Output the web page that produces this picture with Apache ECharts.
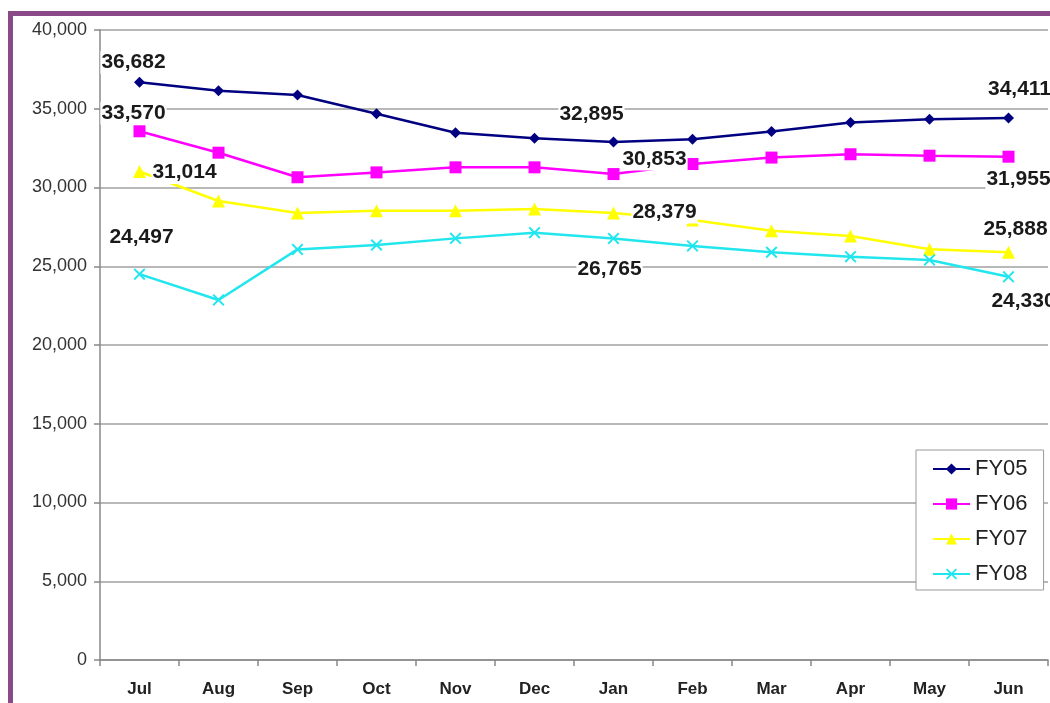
<!DOCTYPE html>
<html>
<head>
<meta charset="utf-8">
<script src="https://cdn.jsdelivr.net/npm/echarts@6/dist/echarts.min.js"></script>
<style>
  html, body { margin: 0; padding: 0; background: #fff; }
  #chart { width: 1050px; height: 703px; }
</style>
</head>
<body>
<div id="chart"></div>
<script>
// months on the x axis
var months = ['Jul', 'Aug', 'Sep', 'Oct', 'Nov', 'Dec', 'Jan', 'Feb', 'Mar', 'Apr', 'May', 'Jun'];

// values (labelled points are exact)
var fy05 = [36682, 36150, 35870, 34680, 33480, 33120, 32895, 33060, 33550, 34120, 34330, 34411];
var fy06 = [33570, 32210, 30650, 30960, 31280, 31280, 30853, 31490, 31900, 32110, 32020, 31955];
var fy07 = [31014, 29140, 28380, 28530, 28530, 28630, 28379, 27940, 27260, 26920, 26080, 25888];
var fy08 = [24497, 22860, 26070, 26350, 26770, 27130, 26765, 26290, 25890, 25610, 25400, 24330];

var yTicks = [0, 5000, 10000, 15000, 20000, 25000, 30000, 35000, 40000];

// which points carry a value label, and where it sits (px from the marker)
var labelSpots = {
  FY05: { 0: [-6, -20], 6: [-22, -28], 11: [11, -29] },
  FY06: { 0: [-6, -18], 6: [41, -15], 11: [10, 22] },
  FY07: { 0: [45, 1], 6: [51, -1], 11: [7, -23] },
  FY08: { 0: [2, -37], 6: [-4, 31], 11: [15, 24] }
};

var xMark = 'path://M0,1.4L1.4,0L6,4.6L10.6,0L12,1.4L7.4,6L12,10.6L10.6,12L6,7.4L1.4,12L0,10.6L4.6,6Z';

function fmt(v) {
  return v.toLocaleString('en-US');
}

function withLabels(name, values) {
  var spots = labelSpots[name];
  return values.map(function (v, i) {
    if (!spots[i]) return v;
    return {
      value: v,
      label: {
        show: true,
        position: 'inside',
        offset: spots[i],
        formatter: fmt(v),
        fontFamily: 'Liberation Sans, Arial, sans-serif',
        fontWeight: 'bold',
        fontSize: 21,
        color: '#1a1a1a',
        backgroundColor: '#fff',
        padding: [1, 1]
      }
    };
  });
}

function makeSeries(name, values, color, symbol, size) {
  return {
    name: name,
    type: 'line',
    data: withLabels(name, values),
    symbol: symbol,
    symbolSize: size,
    showAllSymbol: true,
    lineStyle: { color: color, width: 2.5 },
    itemStyle: { color: color },
    emphasis: { disabled: true },
    animation: false
  };
}

var chart = echarts.init(document.getElementById('chart'));

chart.setOption({
  backgroundColor: '#fff',
  animation: false,
  grid: {
    left: 100,
    top: 30,
    right: 2,
    bottom: 43,
    containLabel: false
  },
  graphic: [{
    type: 'rect',
    shape: { x: 10.5, y: 13.5, width: 1200, height: 900 },
    style: { fill: 'none', stroke: '#8a4a87', lineWidth: 5 },
    z: 0,
    silent: true
  }],
  legend: {
    orient: 'vertical',
    left: 916,
    top: 450,
    padding: [8, 16, 5, 16],
    itemGap: 13,
    itemWidth: 37,
    itemHeight: 14,
    backgroundColor: '#fff',
    borderColor: '#999',
    borderWidth: 1,
    borderRadius: 0,
    textStyle: {
      fontFamily: 'Liberation Sans, Arial, sans-serif',
      fontSize: 22,
      lineHeight: 22,
      color: '#222'
    },
    data: ['FY05', 'FY06', 'FY07', 'FY08']
  },
  xAxis: {
    type: 'category',
    data: months,
    boundaryGap: true,
    axisLine: { lineStyle: { color: '#888', width: 1.5 } },
    axisTick: { show: true, length: 6, lineStyle: { color: '#888', width: 1.5 } },
    axisLabel: {
      margin: 21,
      fontFamily: 'Liberation Sans, Arial, sans-serif',
      fontWeight: 'bold',
      fontSize: 17,
      color: '#222'
    },
    splitLine: { show: false }
  },
  yAxis: {
    type: 'value',
    min: yTicks[0],
    max: yTicks[yTicks.length - 1],
    interval: yTicks[1] - yTicks[0],
    axisLine: { show: true, lineStyle: { color: '#888', width: 1.5 } },
    axisTick: { show: true, length: 6, lineStyle: { color: '#888', width: 1.5 } },
    axisLabel: {
      margin: 13,
      fontFamily: 'Liberation Sans, Arial, sans-serif',
      fontSize: 18,
      color: '#333',
      formatter: fmt
    },
    splitLine: { show: true, lineStyle: { color: '#b8b8b8', width: 2 } }
  },
  series: [
    makeSeries('FY05', fy05, '#000080', 'diamond', 11),
    makeSeries('FY06', fy06, '#ff00ff', 'rect', 12),
    makeSeries('FY07', fy07, '#ffff00', 'triangle', 13),
    makeSeries('FY08', fy08, '#22e6ee', xMark, 12)
  ]
});
</script>
</body>
</html>
